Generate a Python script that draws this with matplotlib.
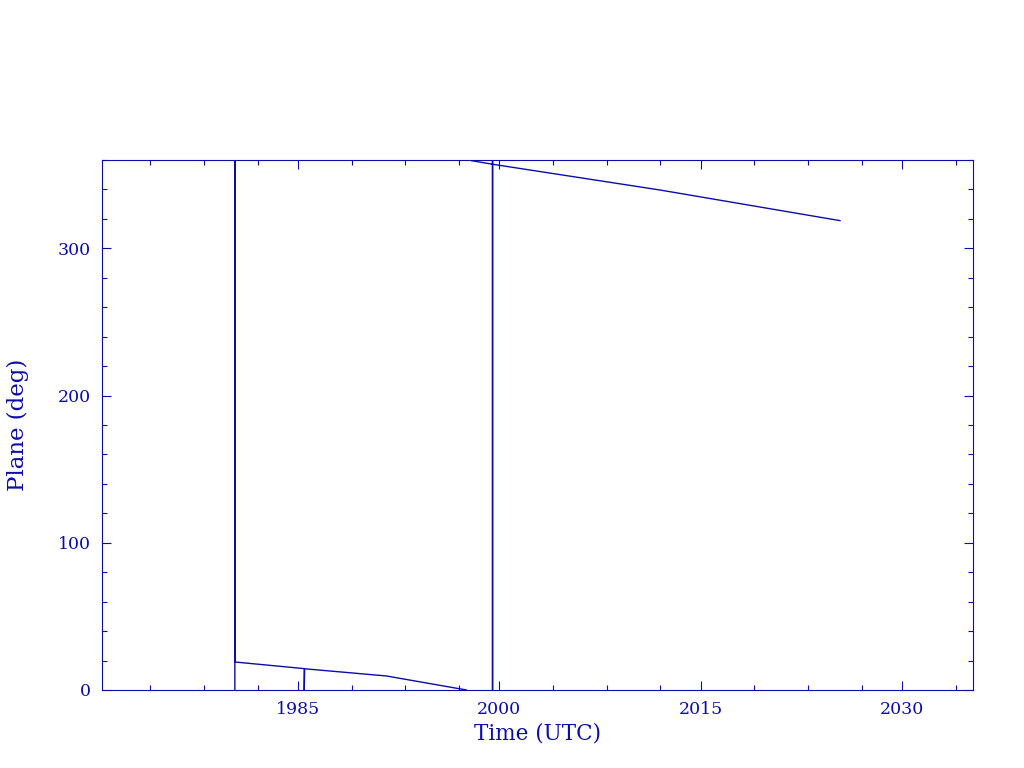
import numpy as np
import matplotlib.pyplot as plt
from matplotlib.ticker import FixedLocator

# данные: время (годы) и угол плоскости (градусы), nan - разрыв при переходе 0/360
time_utc = [1980.3, 1980.3, 1980.3, 1985.47, 1985.47, 1985.5, 1991.6, 1997.55,
            np.nan, 1997.95, 1999.5, 1999.5, 1999.5, 1999.5, 2011.98, 2025.39]
plane_deg = [0, 360, 19, 14.5, 0, 14.4, 9.5, 0,
             np.nan, 359.5, 357.1, 0, 360, 357.1, 339.6, 318.8]

major_years = [1970, 1985, 2000, 2015, 2030]
minor_years = [m + 4 * k for m in major_years for k in (1, 2, 3)]
y_major = [0, 100, 200, 300]
y_minor = list(range(0, 361, 20))

col = '#0c0ca8'
plt.rcParams['font.family'] = 'DejaVu Serif'

fig = plt.figure(figsize=(10.24, 7.68), dpi=100)
ax = fig.add_axes([0.0996, 0.1016, 0.8506, 0.6901])
ax.plot(time_utc, plane_deg, color=col, lw=1.0)

ax.set_xlim(1970.4, 2035.3)
ax.set_ylim(0, 360)
ax.xaxis.set_major_locator(FixedLocator(major_years))
ax.xaxis.set_minor_locator(FixedLocator(minor_years))
ax.yaxis.set_major_locator(FixedLocator(y_major))
ax.yaxis.set_minor_locator(FixedLocator(y_minor))

ax.tick_params(which='both', direction='in', top=True, right=True,
               colors=col, width=0.8, labelsize=12.5, labelcolor=col)
ax.tick_params(which='major', length=6.5, pad=8)
ax.tick_params(which='minor', length=3.5)
for s in ax.spines.values():
    s.set_color(col)
    s.set_linewidth(0.8)

ax.set_xlabel('Time (UTC)', color=col, fontsize=15.5, labelpad=3)
ax.set_ylabel('Plane (deg)', color=col, fontsize=16.5, labelpad=21)

plt.savefig('out.png', dpi=100)
